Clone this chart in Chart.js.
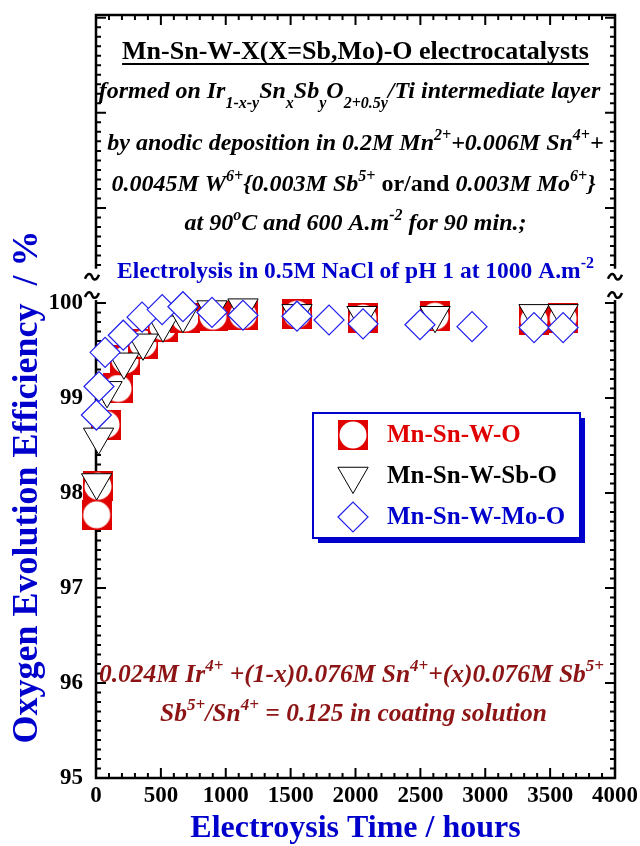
<!DOCTYPE html>
<html>
<head>
<meta charset="utf-8">
<script src="https://cdn.jsdelivr.net/npm/chart.js@4.4.1/dist/chart.umd.min.js"></script>
<style>
  html, body { margin: 0; padding: 0; background: #fff; }
</style>
</head>
<body>
<canvas id="chart" width="640" height="846"></canvas>
<script>
const seriesNames = ['Mn-Sn-W-O', 'Mn-Sn-W-Sb-O', 'Mn-Sn-W-Mo-O']

// electrolysis time (hours) and oxygen evolution efficiency (%)
const timeW = [5, 15, 77, 170, 224, 362, 516, 686, 902, 1133, 1549, 2058, 2613, 3376, 3600]
const effW = [97.77, 98.07, 98.72, 99.10, 99.40, 99.57, 99.75, 99.84, 99.86, 99.87, 99.88, 99.84, 99.86, 99.82, 99.84]

const timeSb = [5, 20, 85, 215, 362, 516, 670, 894, 1133, 1549, 2050, 2613, 3376, 3600]
const effSb = [98.11, 98.59, 99.08, 99.38, 99.58, 99.77, 99.87, 99.93, 99.95, 99.89, 99.87, 99.87, 99.89, 99.89]

const timeMo = [3, 23, 70, 210, 355, 510, 670, 894, 1133, 1549, 1796, 2058, 2497, 2898, 3376, 3600]
const effMo = [98.82, 99.12, 99.48, 99.66, 99.85, 99.93, 99.96, 99.90, 99.87, 99.86, 99.82, 99.78, 99.77, 99.75, 99.74, 99.74]

const xTickLabels = [0, 500, 1000, 1500, 2000, 2500, 3000, 3500, 4000]
const yTickLabels = [95, 96, 97, 98, 99, 100]

const SERIF = '"Liberation Serif", "Times New Roman", serif'
const RED = '#e00000'
const BLUE = '#0000cc'
const DARKRED = '#8c1414'

function circleMarker() {
  const c = document.createElement('canvas')
  c.width = 30
  c.height = 30
  const g = c.getContext('2d')
  g.fillStyle = RED
  g.fillRect(0, 0, 30, 30)
  g.fillStyle = '#fff'
  g.beginPath()
  g.arc(15, 15, 13.5, 0, Math.PI * 2)
  g.fill()
  return c
}

const toPoints = (xs, ys) => xs.map((x, i) => ({ x, y: ys[i] }))

// rich text: parts are [text, flags]; flags: i = italic, ^ = sup, _ = sub
function fontFor(flags, size) {
  const small = flags.includes('^') || flags.includes('_')
  const s = small ? Math.round(size * 0.66) : size
  return `${flags.includes('i') ? 'italic ' : ''}bold ${s}px ${SERIF}`
}

function richLine(ctx, parts, cx, y, size, color, underline) {
  let w = 0
  parts.forEach(([t, f]) => {
    ctx.font = fontFor(f, size)
    w += ctx.measureText(t).width
  })
  let x = cx - w / 2
  ctx.fillStyle = color
  ctx.textBaseline = 'alphabetic'
  ctx.textAlign = 'left'
  parts.forEach(([t, f]) => {
    ctx.font = fontFor(f, size)
    let dy = 0
    if (f.includes('^')) dy = -size * 0.42
    if (f.includes('_')) dy = size * 0.4
    ctx.fillText(t, x, y + dy)
    x += ctx.measureText(t).width
  })
  if (underline) {
    ctx.strokeStyle = color
    ctx.lineWidth = 2
    ctx.beginPath()
    ctx.moveTo(cx - w / 2, y + 5)
    ctx.lineTo(cx + w / 2, y + 5)
    ctx.stroke()
  }
}

const frame = {
  id: 'frame',
  beforeDatasetsDraw(chart) {
    const { ctx, chartArea: a, scales: { x, y } } = chart
    ctx.save()
    ctx.strokeStyle = '#000'
    ctx.lineWidth = 2
    ctx.beginPath()
    for (let t = 0; t <= 4000; t += 100) {
      const px = x.getPixelForValue(t)
      const len = t % 500 === 0 ? 10 : 5
      ctx.moveTo(px, a.bottom); ctx.lineTo(px, a.bottom - len)
      ctx.moveTo(px, a.top); ctx.lineTo(px, a.top + len)
    }
    for (let k = 950; k <= 1030; k++) {
      const py = y.getPixelForValue(k / 10)
      const len = k % 10 === 0 ? 10 : 5
      ctx.moveTo(a.left, py); ctx.lineTo(a.left + len, py)
      ctx.moveTo(a.right, py); ctx.lineTo(a.right - len, py)
    }
    ctx.stroke()
    ctx.lineWidth = 2.5
    ctx.strokeRect(a.left, a.top, a.width, a.height)

    // axis break
    const y1 = y.getPixelForValue(100.36)
    const y2 = y.getPixelForValue(100.03)
    ctx.fillStyle = '#fff'
    ctx.fillRect(a.left - 3, y1, 14, y2 - y1)
    ctx.fillRect(a.right - 11, y1, 14, y2 - y1)
    ctx.lineWidth = 2.5
    const tilde = (cx, cy) => {
      ctx.beginPath()
      ctx.moveTo(cx - 7, cy + 2)
      ctx.bezierCurveTo(cx - 4, cy - 5, cx - 1, cy - 3, cx, cy)
      ctx.bezierCurveTo(cx + 1, cy + 3, cx + 4, cy + 5, cx + 7, cy - 2)
      ctx.stroke()
    }
    tilde(a.left - 4, y1 + 8)
    tilde(a.left - 4, y2 - 5)
    tilde(a.right, y1 + 8)
    tilde(a.right, y2 - 5)
    ctx.restore()
  },
  afterDraw(chart) {
    const { ctx, chartArea: a } = chart
    const cx = (a.left + a.right) / 2
    ctx.save()

    richLine(ctx, [['Mn-Sn-W-X(X=Sb,Mo)-O electrocatalysts', '']], cx, 59, 26, '#000', true)
    richLine(ctx, [['formed on Ir', 'i'], ['1-x-y', 'i_'], ['Sn', 'i'], ['x', 'i_'], ['Sb', 'i'], ['y', 'i_'],
      ['O', 'i'], ['2+0.5y', 'i_'], ['/Ti intermediate layer', 'i']], cx - 6, 98, 24, '#000')
    richLine(ctx, [['by anodic deposition in 0.2M Mn', 'i'], ['2+', 'i^'], ['+0.006M Sn', 'i'], ['4+', 'i^'], ['+', 'i']],
      cx, 150, 24, '#000')
    richLine(ctx, [['0.0045M W', 'i'], ['6+', 'i^'], ['{0.003M Sb', 'i'], ['5+', 'i^'], [' or/and ', ''],
      ['0.003M Mo', 'i'], ['6+', 'i^'], ['}', 'i']], cx - 2, 191, 24, '#000')
    richLine(ctx, [['at 90', 'i'], ['o', 'i^'], ['C and 600 A.m', 'i'], ['-2', 'i^'], [' for 90 min.;', 'i']],
      cx, 230, 24, '#000')
    richLine(ctx, [['Electrolysis in 0.5M NaCl of pH 1 at 1000 A.m', ''], ['-2', '^']], cx, 278, 23.5, BLUE)

    richLine(ctx, [['0.024M Ir', 'i'], ['4+', 'i^'], [' +(1-x)0.076M Sn', 'i'], ['4+', 'i^'],
      ['+(x)0.076M Sb', 'i'], ['5+', 'i^']], cx - 4, 682, 25.5, DARKRED)
    richLine(ctx, [['Sb', 'i'], ['5+', 'i^'], ['/Sn', 'i'], ['4+', 'i^'], [' = 0.125 in coating solution', 'i']],
      cx - 2, 721, 25.5, DARKRED)

    // y axis title
    ctx.save()
    ctx.translate(37, 487)
    ctx.rotate(-Math.PI / 2)
    ctx.font = `bold 36px ${SERIF}`
    ctx.fillStyle = BLUE
    ctx.textAlign = 'center'
    ctx.textBaseline = 'alphabetic'
    ctx.fillText('Oxygen Evolution Efficiency  / %', 0, 0)
    ctx.restore()

    // legend box
    const bx = 313, by = 413, bw = 267, bh = 125
    ctx.fillStyle = BLUE
    ctx.fillRect(bx + 5, by + 5, bw, bh)
    ctx.fillStyle = '#fff'
    ctx.fillRect(bx, by, bw, bh)
    ctx.strokeStyle = BLUE
    ctx.lineWidth = 2
    ctx.strokeRect(bx, by, bw, bh)
    const colors = [RED, '#000', BLUE]
    chart.data.datasets.forEach((ds, i) => {
      const ly = 435 + i * 41
      ctx.fillStyle = ds.backgroundColor || '#fff'
      ctx.strokeStyle = ds.borderColor || '#000'
      ctx.lineWidth = ds.pointBorderWidth || 1
      Chart.helpers.drawPoint(ctx, {
        pointStyle: ds.pointStyle, radius: ds.pointRadius || 15,
        rotation: ds.pointRotation || 0, borderWidth: ds.pointBorderWidth || 1
      }, 353, ly)
      ctx.font = `bold 25px ${SERIF}`
      ctx.fillStyle = colors[i]
      ctx.textAlign = 'left'
      ctx.textBaseline = 'middle'
      ctx.fillText(ds.label, 387, ly + 1)
    })
    ctx.restore()
  }
}

const noPadding = (s) => {
  s.paddingTop = 0
  s.paddingBottom = 0
  s.paddingLeft = 0
  s.paddingRight = 0
}

const chart = new Chart(document.getElementById('chart'), {
  type: 'scatter',
  data: {
    datasets: [
      {
        label: seriesNames[0],
        data: toPoints(timeW, effW),
        pointStyle: circleMarker(),
        pointRadius: 15,
        order: 3,
        clip: false,
      },
      {
        label: seriesNames[1],
        data: toPoints(timeSb, effSb),
        pointStyle: 'triangle',
        pointRotation: 180,
        pointRadius: 17.5,
        backgroundColor: '#fff',
        borderColor: '#000',
        pointBorderWidth: 1,
        order: 2,
        clip: false,
      },
      {
        label: seriesNames[2],
        data: toPoints(timeMo, effMo),
        pointStyle: 'rectRot',
        pointRadius: 15,
        backgroundColor: '#fff',
        borderColor: '#2020ee',
        pointBorderWidth: 1.2,
        order: 1,
        clip: false,
      },
    ],
  },
  options: {
    responsive: false,
    animation: false,
    events: [],
    layout: { autoPadding: false, padding: { top: 15, right: 25, left: 0, bottom: 0 } },
    plugins: { legend: { display: false }, tooltip: { enabled: false } },
    scales: {
      x: {
        type: 'linear',
        min: 0,
        max: 4000,
        grid: { display: false, drawTicks: false },
        border: { display: false },
        afterBuildTicks: (s) => { s.ticks = xTickLabels.map(value => ({ value })) },
        ticks: {
          color: '#000',
          padding: 4,
          maxRotation: 0,
          autoSkip: false,
          callback: v => String(v),
          font: { family: SERIF, weight: 'bold', size: 23 },
        },
        title: {
          display: true,
          text: 'Electroysis Time / hours',
          color: BLUE,
          font: { family: SERIF, weight: 'bold', size: 32, lineHeight: 1 },
          padding: { top: 0, bottom: 1 },
        },
        afterFit: (s) => { s.height = 68; noPadding(s) },
      },
      y: {
        type: 'linear',
        min: 95,
        max: 103.03,
        grid: { display: false, drawTicks: false },
        border: { display: false },
        afterBuildTicks: (s) => { s.ticks = yTickLabels.map(value => ({ value })) },
        ticks: {
          color: '#000',
          padding: 13,
          callback: v => String(v),
          font: { family: SERIF, weight: 'bold', size: 23 },
        },
        afterFit: (s) => { s.width = 96; noPadding(s) },
      },
    },
  },
  plugins: [frame],
})
</script>
</body>
</html>
